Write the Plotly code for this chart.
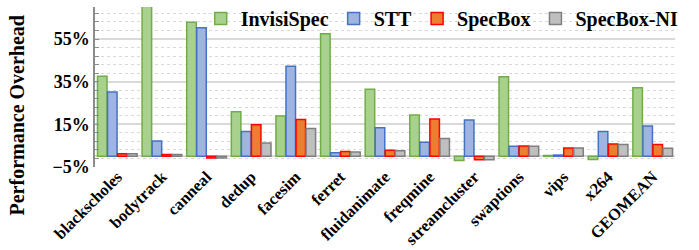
import plotly.graph_objects as go

categories = ["blackscholes", "bodytrack", "canneal", "dedup", "facesim", "ferret",
              "fluidanimate", "freqmine", "streamcluster", "swaptions", "vips", "x264", "GEOMEAN"]
invisispec = [37.5, 75.0, 62.8, 20.9, 18.9, 57.5, 31.4, 19.4, -1.9, 37.3, 0.4, -1.5, 32.2]
stt = [30.1, 7.2, 60.3, 11.6, 42.2, 1.7, 13.4, 6.6, 17.0, 4.7, 0.6, 11.6, 14.2]
specbox = [1.2, 0.9, -0.8, 14.8, 17.3, 2.3, 2.8, 17.5, -1.6, 4.8, 3.9, 5.8, 5.5]
specbox_ni = [1.2, 0.9, -0.8, 6.2, 13.0, 2.0, 2.6, 8.4, -1.6, 4.7, 3.9, 5.6, 3.8]

series = [
    ("InvisiSpec", invisispec, "#a9d18e", "#70ad47"),
    ("STT", stt, "#9fb4e0", "#4472c4"),
    ("SpecBox", specbox, "#ed7d31", "#ff0000"),
    ("SpecBox-NI", specbox_ni, "#bfbfbf", "#7f7f7f"),
]

FONT = "Liberation Serif, Times New Roman, serif"

fig = go.Figure()
for name, vals, fill, line in series:
    fig.add_trace(go.Bar(
        name=name, x=categories, y=vals,
        marker=dict(color=fill, line=dict(color=line, width=1.5)),
    ))

fig.add_annotation(
    text="Performance Overhead", textangle=-90,
    xref="paper", yref="paper", x=-0.135, y=0.32, xanchor="center", yanchor="middle",
    showarrow=False, font=dict(family=FONT, size=20, weight="bold", color="black"),
)

fig.update_layout(
    width=699, height=250,
    margin=dict(l=95, r=24, t=7, b=83, autoexpand=False),
    paper_bgcolor="white", plot_bgcolor="white",
    barmode="group", bargap=0.1, bargroupgap=0.05,
    font=dict(family=FONT, size=16, color="black", weight="bold"),
    showlegend=True,
    legend=dict(
        orientation="h", x=1.015, xanchor="right", y=1.05, yanchor="top",
        bgcolor="rgba(0,0,0,0)", font=dict(family=FONT, size=20, weight="bold"),
        itemwidth=30, traceorder="normal",
    ),
    xaxis=dict(
        tickangle=-45, showgrid=False, showline=False, ticks="", automargin=False,
        ticklabelstandoff=-4,
        tickfont=dict(family=FONT, size=16.5, weight="bold"),
    ),
    yaxis=dict(
        range=[-5, 70], tick0=-5, dtick=20, ticksuffix="%", automargin=False,
        showgrid=True, gridcolor="#d9d9d9", gridwidth=1.5,
        zeroline=True, zerolinecolor="#d9d9d9", zerolinewidth=1.5,
        showline=True, linecolor="#8c8c8c", linewidth=1.5,
        ticks="inside", ticklen=4, tickcolor="#8c8c8c",
        tickfont=dict(family=FONT, size=18, weight="bold"),
        minor=dict(dtick=4, tick0=-5, showgrid=True, gridcolor="#d9d9d9",
                   griddash="dot", gridwidth=1, ticks="inside", ticklen=4,
                   tickcolor="#8c8c8c"),
    ),
)

fig.write_html("out.html", config={"displayModeBar": False},
               post_script="document.body.style.margin='0';")
